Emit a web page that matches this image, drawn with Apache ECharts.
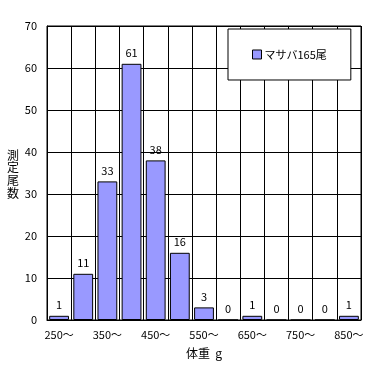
<!DOCTYPE html>
<html><head><meta charset="utf-8">
<script src="https://cdn.jsdelivr.net/npm/echarts@6/dist/echarts.min.js"></script>
<style>html,body{margin:0;padding:0;background:#fff}#c{width:375px;height:366px}</style>
</head><body><div id="c"></div>
<script>
const categories = ['250〜','300〜','350〜','400〜','450〜','500〜','550〜','600〜','650〜','700〜','750〜','800〜','850〜'];
const counts = [1, 11, 33, 61, 38, 16, 3, 0, 1, 0, 0, 0, 1];
const seriesName = 'マサバ165尾';
const xName = '体重  g';
const yNameChars = ['測', '定', '尾', '数'];
const FONT = '"Noto Sans CJK JP", sans-serif';
const chart = echarts.init(document.getElementById('c'), null, {renderer:'canvas'});
chart.setOption({
  animation: false,
  textStyle: {fontFamily: FONT},
  grid: {left: 47, right: 14, top: 26, bottom: 46, show: true, borderColor: '#000', borderWidth: 1, outerBoundsMode: 'none', containLabel: false},
  legend: {
    data: [seriesName], left: 228, top: 29, orient: 'vertical',
    padding: [20, 24, 20, 24],
    backgroundColor: '#fff', borderColor: '#000', borderWidth: 1,
    itemWidth: 9, itemHeight: 9, itemGap: 4,
    icon: 'rect',
    itemStyle: {borderColor: '#000', borderWidth: 1},
    textStyle: {fontFamily: FONT, fontSize: 11, color: '#000', padding: [0,0,0,-2]}
  },
  graphic: yNameChars.map((ch, i) => ({
    type: 'text', x: 13, y: 155 + i * 12.7,
    style: {text: ch, font: '12px ' + FONT, fill: '#000', align: 'center', verticalAlign: 'middle'}
  })),
  xAxis: {
    type: 'category', data: categories,
    name: xName, nameLocation: 'middle', nameGap: 27,
    nameTextStyle: {fontFamily: FONT, fontSize: 12, color: '#000'},
    axisLine: {lineStyle: {color: '#000'}},
    axisTick: {show: false},
    axisLabel: {interval: 1, color: '#000', fontSize: 11, margin: 9, fontFamily: FONT},
    splitLine: {show: true, interval: 0, lineStyle: {color: '#000', width: 1}}
  },
  yAxis: {
    type: 'value', min: 0, max: 70, interval: 10,
    axisLine: {show: true, lineStyle: {color: '#000'}},
    axisTick: {show: false},
    axisLabel: {color: '#000', fontSize: 11, margin: 10, fontFamily: FONT},
    splitLine: {show: true, lineStyle: {color: '#000', width: 1}}
  },
  series: [{
    name: seriesName, type: 'bar', data: counts,
    barCategoryGap: '18%',
    itemStyle: {color: '#9999ff', borderColor: '#000', borderWidth: 1},
    label: {show: true, position: 'top', distance: 5, color: '#000', fontSize: 11, fontFamily: FONT}
  }]
});
</script></body></html>
